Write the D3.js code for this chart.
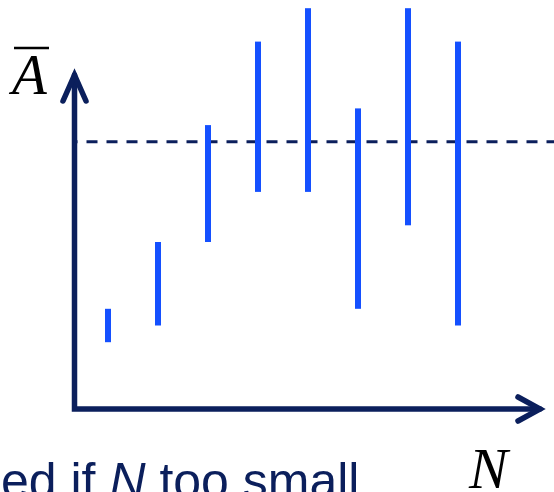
<!DOCTYPE html>
<html>
<head>
<meta charset="utf-8">
<script src="https://cdn.jsdelivr.net/npm/d3@7"></script>
<style>
  html, body { margin: 0; padding: 0; background: #fff; overflow: hidden; }
  #graf { width: 554px; height: 492px; }
</style>
</head>
<body>
<div id="graf"></div>
<script>
// I. Datos
n_valores = [1, 2, 3, 4, 5, 6, 7, 8]
minimos   = [2.0, 2.5, 5.0, 6.5, 6.5, 3.0, 5.5, 2.5]
maximos   = [3.0, 5.0, 8.5, 11.0, 12.0, 9.0, 12.0, 11.0]
valor_real = 8

// II. Configuración
ancho_total = 554
alto_total = 492
azul_eje = '#0b1f5c'
azul_barra = '#1450ff'

svg = d3.select('#graf').append('svg')
        .attr('width', ancho_total)
        .attr('height', alto_total)

x = d3.scaleLinear()
      .domain([0.33, 9.64])
      .range([74.5, 540])

y = d3.scaleLinear()
      .domain([0, 10])
      .range([409, 75])

// III. Línea punteada (valor real)
svg.append('line')
   .attr('x1', x(0.33))
   .attr('x2', ancho_total)
   .attr('y1', y(valor_real))
   .attr('y2', y(valor_real))
   .attr('stroke', azul_eje)
   .attr('stroke-width', 3)
   .attr('stroke-dasharray', '11,9')
   .attr('stroke-dashoffset', 8)

// IV. Barras (intervalos)
data = n_valores.map((n, i) => ({ n: n, lo: minimos[i], hi: maximos[i] }))

svg.selectAll('rect.barra')
   .data(data)
   .enter()
   .append('rect')
     .attr('class', 'barra')
     .attr('x', d => x(d.n) - 3)
     .attr('width', 6)
     .attr('y', d => y(d.hi))
     .attr('height', d => y(d.lo) - y(d.hi))
     .attr('fill', azul_barra)

// V. Ejes con flecha
ejes = svg.append('g')
          .attr('fill', 'none')
          .attr('stroke', azul_eje)
          .attr('stroke-width', 5.5)
          .attr('stroke-linecap', 'round')
          .attr('stroke-linejoin', 'miter')

ejes.append('path')
    .attr('d', `M${x(0.33)},${y(10)} L${x(0.33)},${y(0)} L${x(9.64)},${y(0)}`)

// flecha vertical
ejes.append('path')
    .attr('d', `M${x(0.33) - 11.5},${y(10) + 26} L${x(0.33)},${y(10)} L${x(0.33) + 11.5},${y(10) + 26}`)

// flecha horizontal
ejes.append('path')
    .attr('d', `M${x(9.64) - 22},${y(0) - 12} L${x(9.64)},${y(0)} L${x(9.64) - 22},${y(0) + 12}`)

// VI. Textos
svg.append('text')
   .attr('x', 12)
   .attr('y', 94)
   .style('font-family', '"Liberation Serif", "Times New Roman", serif')
   .style('font-style', 'italic')
   .style('font-size', '57px')
   .attr('fill', '#000')
   .text('A')

svg.append('line')
   .attr('x1', 14).attr('x2', 49)
   .attr('y1', 48).attr('y2', 48)
   .attr('stroke', '#000')
   .attr('stroke-width', 2.5)

svg.append('text')
   .attr('x', 469)
   .attr('y', 488)
   .style('font-family', '"Liberation Serif", "Times New Roman", serif')
   .style('font-style', 'italic')
   .style('font-size', '58px')
   .attr('fill', '#000')
   .text('N')

nota = svg.append('text')
          .attr('x', 1)
          .attr('y', 498)
          .style('font-family', '"Liberation Sans", Arial, sans-serif')
          .style('font-size', '50px')
          .attr('fill', azul_eje)

nota.append('tspan').text('ed if ')
nota.append('tspan').style('font-style', 'italic').text('N')
nota.append('tspan').text(' too small')
</script>
</body>
</html>
